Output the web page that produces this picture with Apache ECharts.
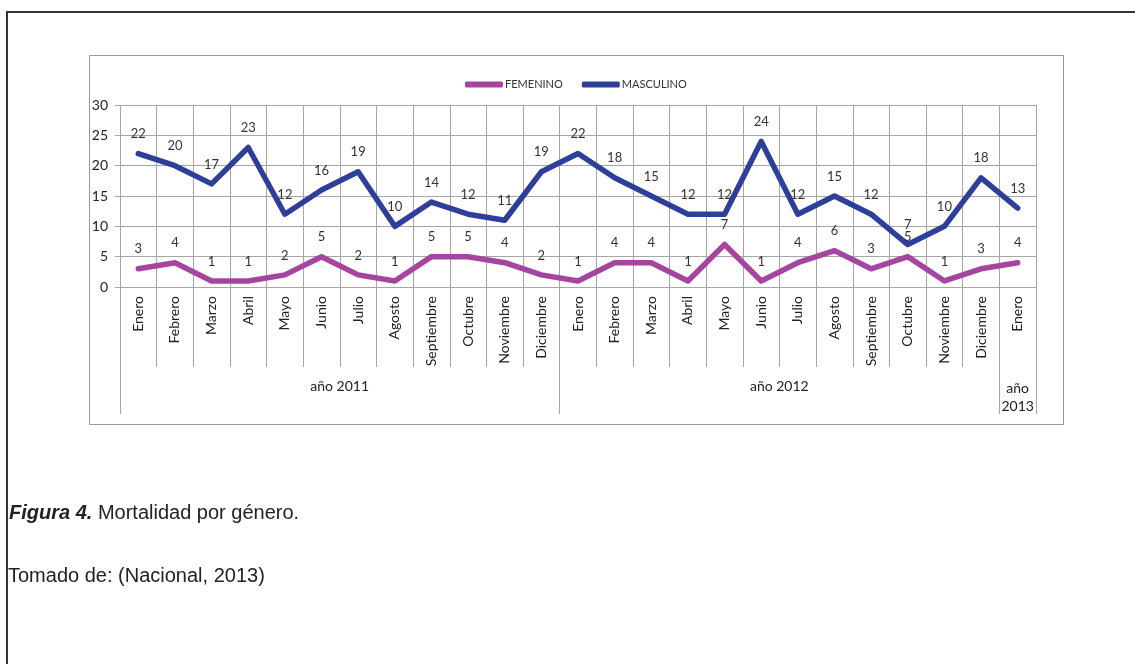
<!DOCTYPE html>
<html>
<head>
<meta charset="utf-8">
<script src="https://cdn.jsdelivr.net/npm/echarts@6/dist/echarts.min.js"></script>
<style>
  html, body { margin: 0; padding: 0; background: #fff; }
  #main { width: 1135px; height: 664px; }
</style>
</head>
<body>
<div id="main"></div>
<script>
const months = ["Enero", "Febrero", "Marzo", "Abril", "Mayo", "Junio", "Julio", "Agosto", "Septiembre", "Octubre", "Noviembre", "Diciembre",
  "Enero", "Febrero", "Marzo", "Abril", "Mayo", "Junio", "Julio", "Agosto", "Septiembre", "Octubre", "Noviembre", "Diciembre",
  "Enero"];
const femenino = [3, 4, 1, 1, 2, 5, 2, 1, 5, 5, 4, 2, 1, 4, 4, 1, 7, 1, 4, 6, 3, 5, 1, 3, 4];
const masculino = [22, 20, 17, 23, 12, 16, 19, 10, 14, 12, 11, 19, 22, 18, 15, 12, 12, 24, 12, 15, 12, 7, 10, 18, 13];
const yearNames = ["año 2011", "año 2012", "año\n2013"];
const yearSizes = [12, 12, 1];

// where each year group starts, and which category carries its label
const groupStarts = [];
const labelAt = {};
let acc = 0;
yearSizes.forEach((n, i) => {
  groupStarts.push(acc);
  labelAt[acc + Math.floor(n / 2)] = { name: yearNames[i], shift: n % 2 === 0 };
  acc += n;
});

const chart = echarts.init(document.getElementById("main"));
const font = "Lato, 'Open Sans', sans-serif";
const gridCol = "#a6a6a6";

const lineLabel = { show: true, position: "top", distance: 13, fontSize: 13, color: "#333", fontFamily: font };

const option = {
  animation: false,
  textStyle: { fontFamily: font },
  graphic: [
    // outer frame (top and left edges)
    { type: "polyline", shape: { points: [[1135, 12], [7, 12], [7, 664]] }, style: { stroke: "#333", lineWidth: 2, fill: null } },
    // chart box
    { type: "rect", shape: { x: 89.5, y: 55.5, width: 974, height: 369 }, style: { stroke: "#9a9a9a", lineWidth: 1, fill: null } },
    {
      type: "text", left: 9, top: 503,
      style: {
        text: "{b|Figura 4.} Mortalidad por género.",
        rich: { b: { fontWeight: "bold", fontStyle: "italic", fontSize: 20, fontFamily: "'Liberation Sans', Arial", fill: "#222" } },
        fontSize: 20, fontFamily: "'Liberation Sans', Arial", fill: "#222"
      }
    },
    {
      type: "text", left: 8, top: 566,
      style: { text: "Tomado de: (Nacional, 2013)", fontSize: 20, fontFamily: "'Liberation Sans', Arial", fill: "#222" }
    }
  ],
  legend: {
    left: 460, top: 74,
    itemWidth: 38, itemHeight: 6, itemGap: 19,
    icon: "roundRect",
    textStyle: { fontSize: 11, color: "#333", padding: [0, 0, 0, -3] },
    data: ["FEMENINO", "MASCULINO"]
  },
  grid: { left: 120, right: 99, top: 105, bottom: 377 },
  xAxis: [
    {
      type: "category",
      data: months,
      boundaryGap: true,
      axisLine: { show: true, lineStyle: { color: gridCol } },
      axisTick: { show: true, interval: 0, length: 80, lineStyle: { color: gridCol } },
      splitLine: { show: true, interval: 0, lineStyle: { color: gridCol } },
      axisLabel: { rotate: 90, interval: 0, margin: 9, fontSize: 14, color: "#222" }
    },
    {
      type: "category",
      data: months,
      position: "bottom",
      boundaryGap: true,
      axisLine: { show: false },
      axisTick: {
        show: true,
        length: 127,
        interval: (i) => groupStarts.includes(i),
        lineStyle: { color: gridCol }
      },
      splitLine: { show: false },
      axisLabel: {
        interval: (i) => labelAt[i] !== undefined,
        margin: 92,
        formatter: (v, i) => {
          const g = labelAt[i];
          if (!g) return "";
          return g.name.split("\n").map(s => (g.shift ? "{s|" : "{n|") + s + "}").join("\n");
        },
        rich: {
          s: { fontSize: 14, color: "#222", padding: [0, 37, 0, 0], fontFamily: font },
          n: { fontSize: 14, color: "#222", lineHeight: 18, fontFamily: font }
        }
      }
    }
  ],
  yAxis: {
    type: "value",
    min: 0, max: 30, interval: 5,
    axisLine: { show: false },
    axisTick: { show: true, length: 5, lineStyle: { color: gridCol } },
    splitLine: { show: true, lineStyle: { color: gridCol } },
    axisLabel: { fontSize: 14, color: "#222", margin: 12 }
  },
  series: [
    {
      name: "FEMENINO", type: "line", data: femenino,
      symbol: "circle", symbolSize: 0.1, showSymbol: true,
      color: "#a5459f",
      lineStyle: { width: 5.5, cap: "round", join: "round" },
      label: lineLabel
    },
    {
      name: "MASCULINO", type: "line", data: masculino,
      symbol: "circle", symbolSize: 0.1, showSymbol: true,
      color: "#2d3f99",
      lineStyle: { width: 5.5, cap: "round", join: "round" },
      label: lineLabel
    }
  ]
};

chart.setOption(option);
</script>
</body>
</html>
